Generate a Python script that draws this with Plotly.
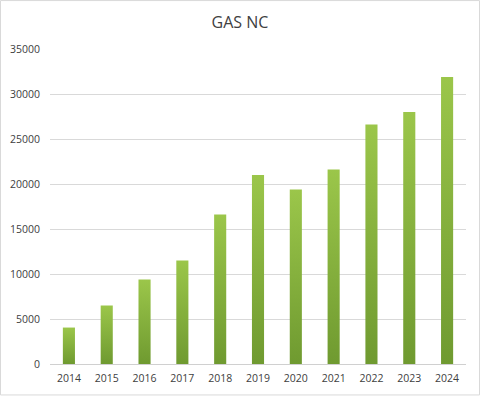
import plotly.graph_objects as go

years = ["2014", "2015", "2016", "2017", "2018", "2019", "2020", "2021", "2022", "2023", "2024"]
values = [4050, 6500, 9400, 11500, 16600, 21000, 19400, 21600, 26600, 28000, 31900]
y_ticks = [0, 5000, 10000, 15000, 20000, 25000, 30000, 35000]

W, H = 480, 396
L, R, T, B = 50, 14, 49, 31.5
half = 0.16

fig = go.Figure()
for i, v in enumerate(values):
    fig.add_trace(go.Scatter(
        x=[i - half, i - half, i + half, i + half, i - half],
        y=[0, v, v, 0, 0],
        fill="toself",
        mode="lines",
        line=dict(width=0, color="rgba(0,0,0,0)"),
        fillgradient=dict(type="vertical",
                          colorscale=[[0, "#6f9a30"], [1, "#9bc64a"]]),
        hoverinfo="skip",
        showlegend=False,
    ))

pw = W - L - R
ph = H - T - B
fig.add_shape(type="rect", xref="paper", yref="paper",
              x0=(0.5 - L) / pw, x1=(W - 0.5 - L) / pw,
              y0=-(B - 0.5) / ph, y1=(H - B - 0.5) / ph,
              line=dict(color="#d9d9d9", width=1), layer="below")

fig.update_layout(
    width=W, height=H,
    margin=dict(l=L, r=R, t=T, b=B, autoexpand=False),
    paper_bgcolor="white", plot_bgcolor="white",
    title=dict(text="GAS NC", x=0.5, xref="container", xanchor="center",
               y=1 - 22 / H, yanchor="middle",
               font=dict(family="Open Sans", size=16, color="#404040")),
    font=dict(family="Open Sans", size=11, color="#595959"),
    xaxis=dict(range=[-0.5, len(years) - 0.5], tickmode="array",
               tickvals=list(range(len(years))), ticktext=years,
               showgrid=False, zeroline=False, showline=False,
               ticks="", tickfont=dict(size=10.5, color="#404040")),
    yaxis=dict(range=[0, 35000], tickmode="array", tickvals=y_ticks,
               ticktext=[str(t) for t in y_ticks],
               showgrid=True, gridcolor="#d9d9d9", gridwidth=1,
               zeroline=True, zerolinecolor="#d0d0d0", zerolinewidth=1,
               showline=False, ticks="", ticklen=0,
               tickfont=dict(size=10.5, color="#404040")),
)
fig.update_xaxes(ticklabelstandoff=6)
fig.update_yaxes(ticklabelstandoff=9)

fig.write_html("out.html", config={"displayModeBar": False},
               post_script="document.body.style.margin='0';document.body.style.padding='0';")
